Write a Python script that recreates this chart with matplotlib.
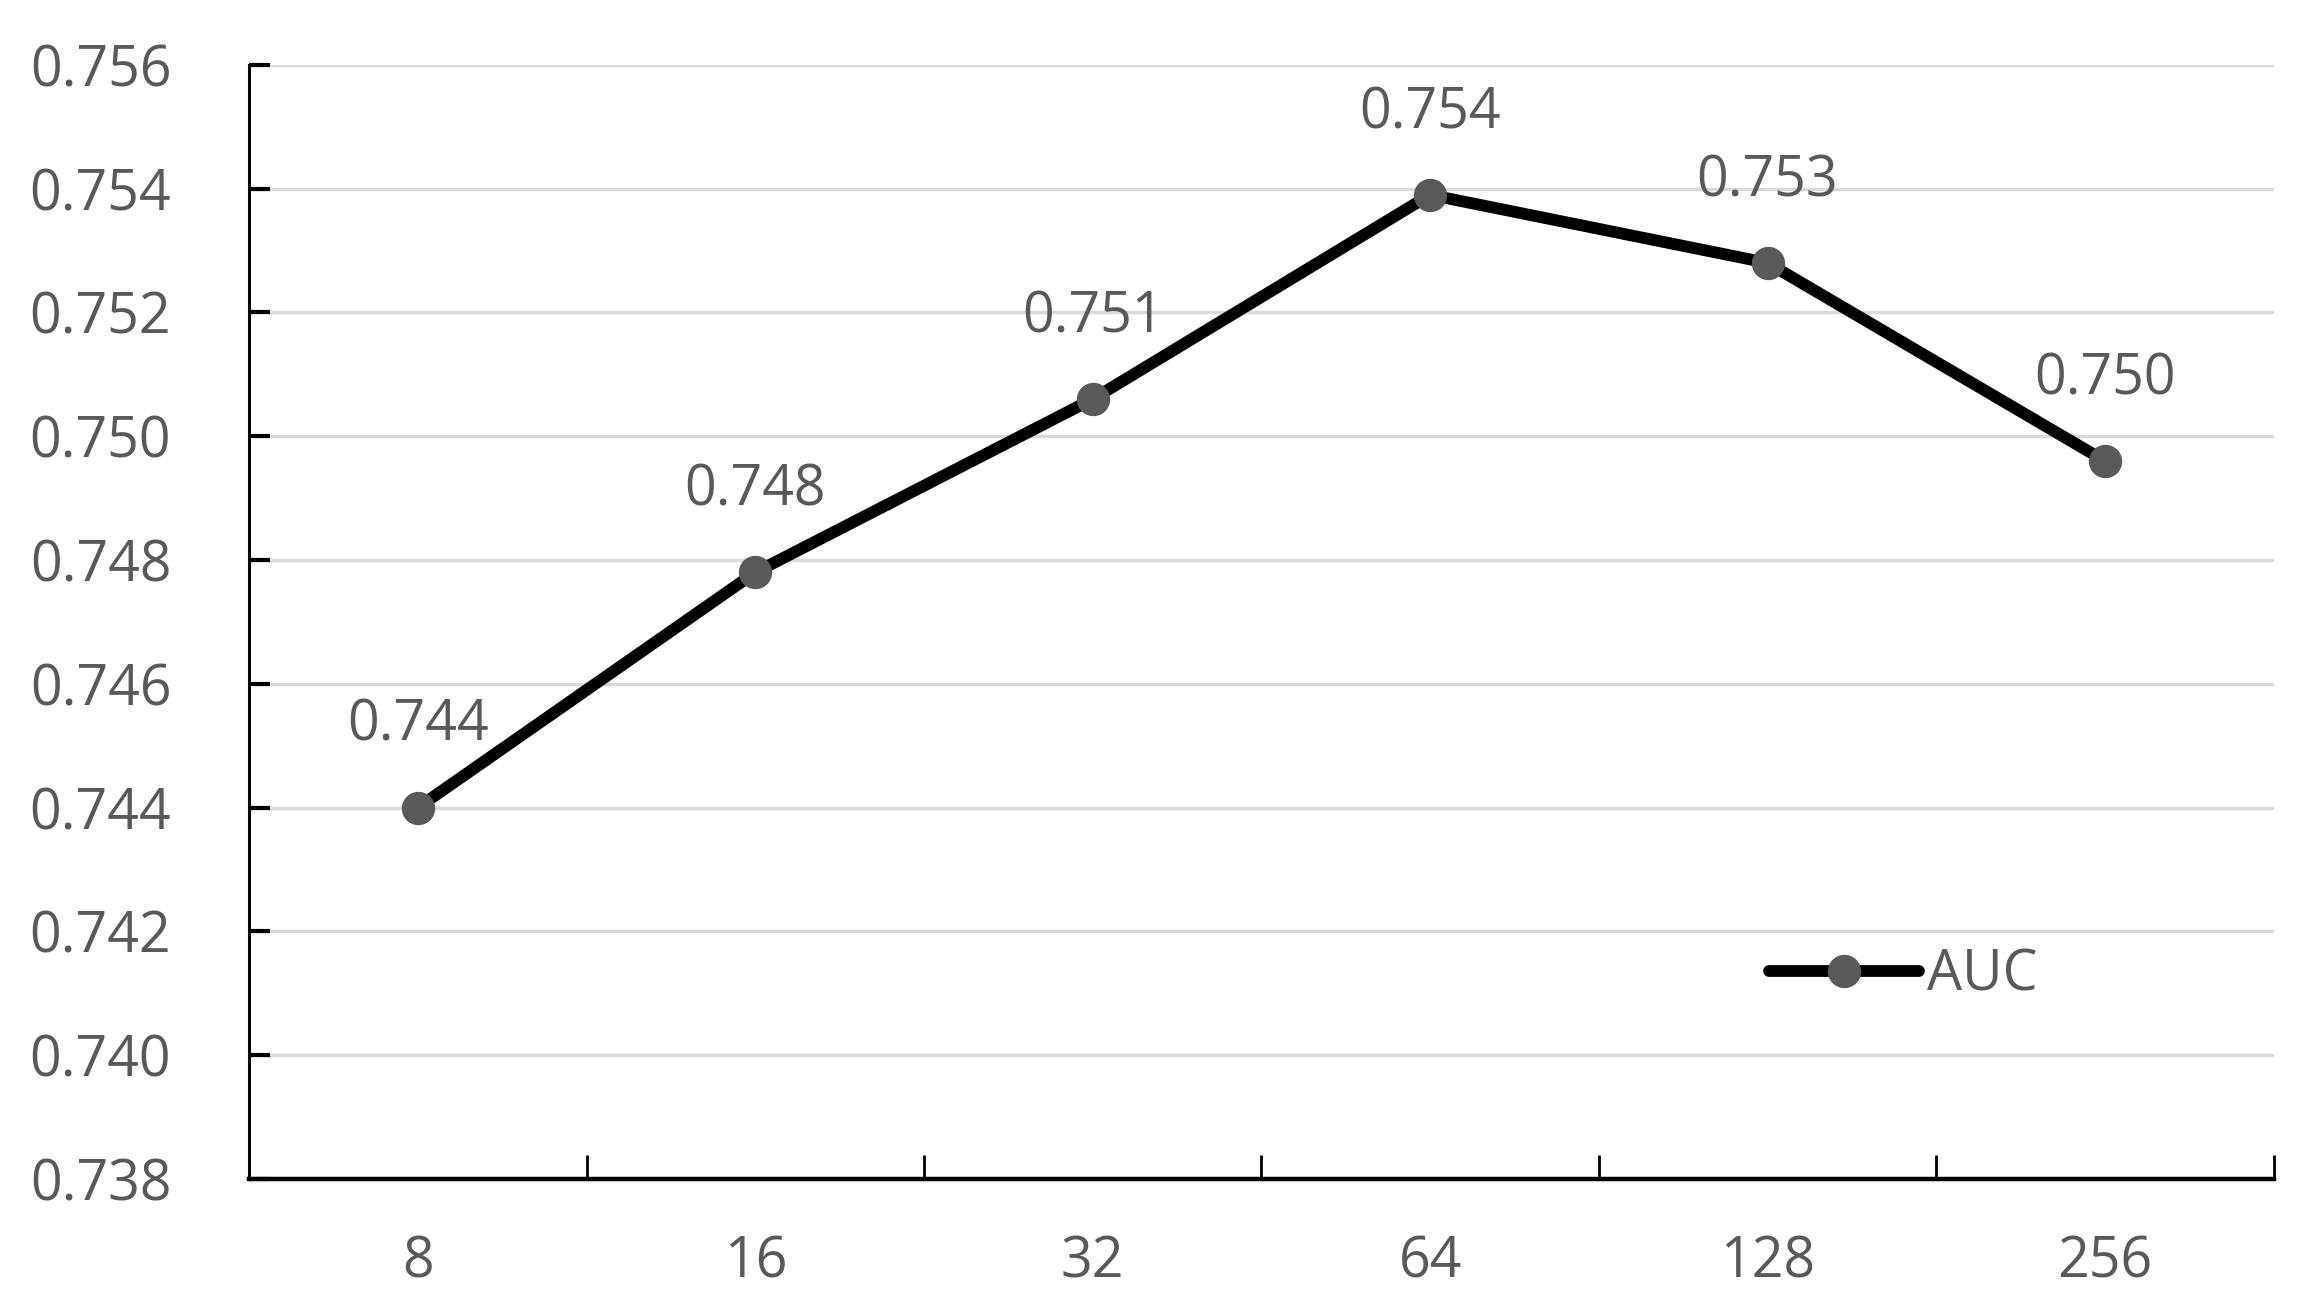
import matplotlib.pyplot as plt
from matplotlib.ticker import FixedLocator, NullFormatter

# embedding dimension vs. AUC
categories = ['8', '16', '32', '64', '128', '256']
auc_values = [0.7440, 0.7478, 0.7506, 0.7539, 0.7528, 0.7496]
auc_labels = ['0.744', '0.748', '0.751', '0.754', '0.753', '0.750']
y_ticks = [0.738, 0.740, 0.742, 0.744, 0.746, 0.748, 0.750, 0.752, 0.754, 0.756]

plt.rcParams['font.family'] = ['Open Sans', 'DejaVu Sans']
text_color = '#595959'
fsize = 40

fig = plt.figure(figsize=(23.13, 13.07), dpi=100)
ax = fig.add_axes([0.1077, 0.0979, 0.8753, 0.8525])

x = list(range(len(categories)))
ax.plot(x, auc_values, color='black', linewidth=8.5, marker='o',
        markersize=23, markerfacecolor='#595959', markeredgecolor='#595959',
        label='AUC', zorder=3, solid_capstyle='round')

for xi, v, lab in zip(x, auc_values, auc_labels):
    ax.annotate(lab, (xi, v), xytext=(0, 48), textcoords='offset points',
                ha='center', va='baseline', fontsize=fsize, color=text_color)

ax.set_xlim(-0.5, len(categories) - 0.5)
ax.set_ylim(y_ticks[0], y_ticks[-1])

ax.set_xticks(x)
ax.set_xticklabels(categories)
ax.xaxis.set_minor_locator(FixedLocator([i - 0.5 for i in range(len(categories) + 1)]))
ax.xaxis.set_minor_formatter(NullFormatter())
ax.tick_params(axis='x', which='major', length=0, pad=40, labelsize=fsize, labelcolor=text_color)
ax.tick_params(axis='x', which='minor', direction='in', length=17, width=2)

ax.set_yticks(y_ticks)
ax.set_yticklabels([f'{t:.3f}' for t in y_ticks])
ax.tick_params(axis='y', direction='in', length=15, width=3, pad=56,
               labelsize=fsize, labelcolor=text_color)

ax.grid(axis='y', color='#d9d9d9', linewidth=2.5, zorder=0)
ax.set_axisbelow(True)

for side in ['top', 'right']:
    ax.spines[side].set_visible(False)
ax.spines['left'].set_linewidth(2.2)
ax.spines['bottom'].set_linewidth(3.2)

leg = ax.legend(loc='center', bbox_to_anchor=(0.817, 0.182), frameon=False,
                fontsize=fsize, handlelength=2.7, handletextpad=0.15)
for t in leg.get_texts():
    t.set_color(text_color)

fig.savefig('out.png', dpi=100, facecolor='white')
